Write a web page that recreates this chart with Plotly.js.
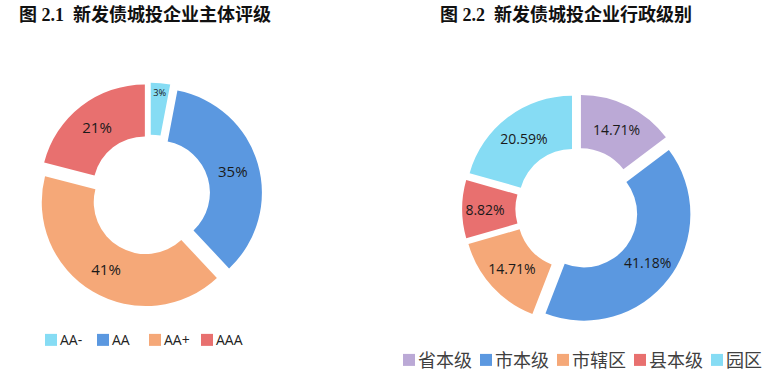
<!DOCTYPE html>
<html><head><meta charset="utf-8">
<script src="https://cdn.plot.ly/plotly-3.0.1.min.js"></script>
<style>html,body{margin:0;padding:0;background:#fff}</style>
</head><body><div id="chart" style="width:769px;height:376px"></div>
<script>
const ratingLabels = ['AA-', 'AA', 'AA+', 'AAA'];
const ratingValues = [3, 35, 41, 21];
const levelLabels = ['省本级', '市本级', '市辖区', '县本级', '园区'];
const levelValues = [14.71, 41.18, 14.71, 8.82, 20.59];
const ratingColors = ['#86DCF4', '#5B98E0', '#F5A878', '#E8706F'];
const levelColors = ['#BBA9D6', '#5B98E0', '#F5A878', '#E8706F', '#86DCF4'];
const title1 = '图 2.1  新发债城投企业主体评级';
const title2 = '图 2.2  新发债城投企业行政级别';

const labelFont1 = {family: 'Open Sans, Noto Sans CJK SC, sans-serif', size: 15, color: '#1a1a1a'};
const labelFont2 = {family: 'Open Sans, Noto Sans CJK SC, sans-serif', size: 14, color: '#1a1a1a'};

const traces = [
  {
    type: 'pie', labels: ratingLabels, values: ratingValues, sort: false,
    direction: 'clockwise', rotation: 0, hole: 0.5,
    pull: ratingValues.map(() => 0.08),
    marker: {colors: ratingColors, line: {width: 0}},
    texttemplate: '%{value}%', textposition: 'inside', insidetextorientation: 'horizontal',
    textfont: labelFont1, hoverinfo: 'none',
    domain: {x: [0.049, 0.341], y: [0.182, 0.781]},
    legend: 'legend'
  },
  {
    type: 'pie', labels: levelLabels, values: levelValues, sort: false,
    direction: 'clockwise', rotation: 0, hole: 0.5,
    pull: levelValues.map(() => 0.08),
    marker: {colors: levelColors, line: {width: 0}},
    texttemplate: '%{value:.2f}%', textposition: 'inside', insidetextorientation: 'horizontal',
    textfont: labelFont2, hoverinfo: 'none',
    domain: {x: [0.601, 0.900], y: [0.138, 0.750]},
    legend: 'legend2'
  }
];

const layout = {
  width: 769, height: 376,
  margin: {l: 0, r: 0, t: 0, b: 0, autoexpand: false},
  paper_bgcolor: '#fff', plot_bgcolor: '#fff',
  showlegend: true,
  legend: {
    orientation: 'h', x: 20 / 769, xanchor: 'left', y: 0.095, yanchor: 'middle',
    font: {family: 'Open Sans, sans-serif', size: 14, color: '#222'},
    itemwidth: 30, entrywidth: 7, entrywidthmode: 'pixels', bgcolor: 'rgba(0,0,0,0)'
  },
  legend2: {
    orientation: 'h', x: 378 / 769, xanchor: 'left', y: 0.042, yanchor: 'middle',
    font: {family: 'Noto Sans CJK SC, sans-serif', size: 18, color: '#404040'},
    itemwidth: 30, entrywidth: 32, entrywidthmode: 'pixels', bgcolor: 'rgba(0,0,0,0)'
  },
  annotations: [
    {text: title1, x: 17 / 769, y: 1 - 15 / 376, xref: 'paper', yref: 'paper', xanchor: 'left', yanchor: 'middle', showarrow: false,
     font: {family: 'Liberation Serif, Noto Sans CJK SC, serif', size: 18, color: '#111', weight: 'bold'}},
    {text: title2, x: 438 / 769, y: 1 - 15 / 376, xref: 'paper', yref: 'paper', xanchor: 'left', yanchor: 'middle', showarrow: false,
     font: {family: 'Liberation Serif, Noto Sans CJK SC, serif', size: 18, color: '#111', weight: 'bold'}}
  ]
};

Plotly.newPlot('chart', traces, layout, {displayModeBar: false, staticPlot: true}).then(function (gd) {
  // keep full legend texts visible and put each swatch right next to its label (both legends)
  gd.querySelectorAll('.scrollbox').forEach(function (sb) { sb.removeAttribute('clip-path'); });
  gd.querySelectorAll('.legendpoints').forEach(function (p) { p.setAttribute('transform', 'translate(11,0)'); });
});
</script></body></html>
